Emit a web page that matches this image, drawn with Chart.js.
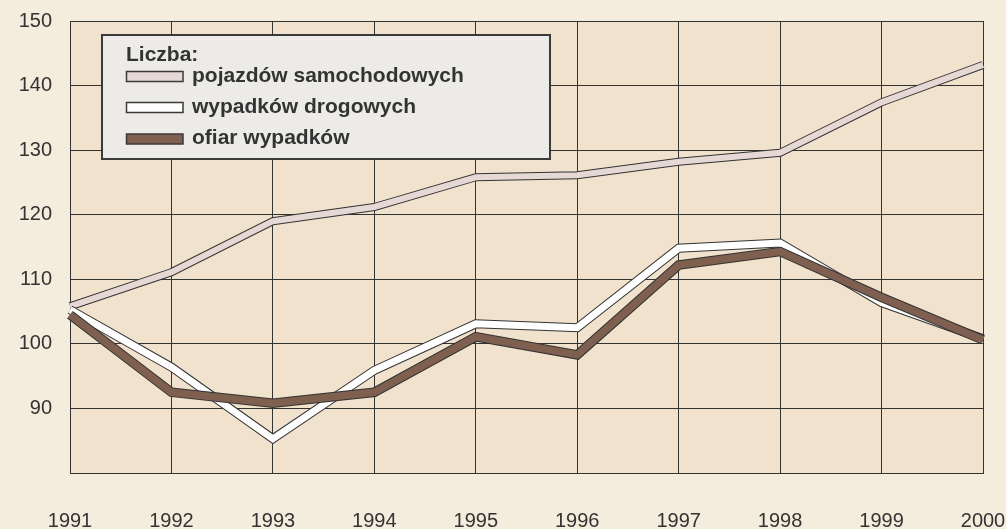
<!DOCTYPE html>
<html>
<head>
<meta charset="utf-8">
<script src="https://cdn.jsdelivr.net/npm/chart.js@4.4.1/dist/chart.umd.min.js"></script>
<style>
  html, body { margin: 0; padding: 0; background: #f4ecdc; }
  canvas { display: block; }
</style>
</head>
<body>
<canvas id="c" width="1006" height="529"></canvas>
<script>
// Index values (1991 ... 2000)
const years = ['1991', '1992', '1993', '1994', '1995', '1996', '1997', '1998', '1999', '2000'];
const vehicles = [105.8, 111.1, 119.0, 121.2, 125.8, 126.1, 128.2, 129.6, 137.4, 143.2];
const accidents = [105.3, 96.4, 85.3, 95.9, 103.1, 102.5, 114.8, 115.6, 106.4, 100.8];
const victims = [104.5, 92.5, 90.8, 92.5, 101.1, 98.3, 112.2, 114.3, 107.2, 100.6];
const yTicks = [90, 100, 110, 120, 130, 140, 150];
const legendTitle = 'Liczba:';
const seriesNames = ['pojazdów samochodowych', 'wypadków drogowych', 'ofiar wypadków'];
const seriesColors = ['#e6d8d4', '#ffffff', '#7f5f4f'];

const OUTLINE = '#333333';
const TEXT = '#333333';
const FONT = '"Liberation Sans", Arial, sans-serif';

// Each series is drawn as a dark wide stroke with a narrower coloured stroke on top
function outlinedSeries(name, values, color, inner, outer, order) {
  const common = { data: values, pointRadius: 0, tension: 0, borderJoinStyle: 'miter',
                   borderCapStyle: 'butt', fill: false, clip: false };
  return [
    Object.assign({ label: name, borderColor: color, borderWidth: inner, order: order }, common),
    Object.assign({ label: name + ' (kontur)', borderColor: OUTLINE, borderWidth: outer, order: order + 1 }, common)
  ];
}

const datasets = [].concat(
  outlinedSeries(seriesNames[2], victims, seriesColors[2], 7.5, 9.5, 0),
  outlinedSeries(seriesNames[1], accidents, seriesColors[1], 7, 9, 2),
  outlinedSeries(seriesNames[0], vehicles, seriesColors[0], 6, 8, 4)
);

// Tan plot area behind the grid
const plotBackground = {
  id: 'plotBackground',
  beforeDraw(chart) {
    const { ctx, chartArea: a } = chart;
    ctx.save();
    ctx.fillStyle = '#f4ecdc';
    ctx.fillRect(0, 0, chart.width, chart.height);
    ctx.fillStyle = '#f0e2cc';
    ctx.fillRect(a.left, a.top, a.right - a.left, a.bottom - a.top);
    ctx.restore();
  }
};

// Boxed legend in the upper-left part of the plot
const boxedLegend = {
  id: 'boxedLegend',
  afterDraw(chart) {
    const { ctx } = chart;
    const x = 102, y = 35, w = 448, h = 124;
    ctx.save();
    ctx.fillStyle = '#ecebe7';
    ctx.fillRect(x, y, w, h);
    ctx.lineWidth = 2;
    ctx.strokeStyle = '#3a3a3a';
    ctx.strokeRect(x, y, w, h);

    ctx.fillStyle = TEXT;
    ctx.font = 'bold 21px ' + FONT;
    ctx.textBaseline = 'alphabetic';
    ctx.textAlign = 'left';
    ctx.fillText(legendTitle, 126, 61);

    const baselines = [81.5, 112.5, 144];
    seriesNames.forEach((name, i) => {
      const b = baselines[i];
      ctx.fillStyle = seriesColors[i];
      ctx.fillRect(126.5, b - 10, 56.5, 10);
      ctx.lineWidth = 1.5;
      ctx.strokeStyle = '#3a3a3a';
      ctx.strokeRect(126.5, b - 10, 56.5, 10);
      ctx.fillStyle = TEXT;
      ctx.fillText(name, 192, b);
    });
    ctx.restore();
  }
};

new Chart(document.getElementById('c'), {
  type: 'line',
  data: { labels: years, datasets: datasets },
  options: {
    responsive: false,
    animation: false,
    events: [],
    layout: { padding: { top: 21, right: 23, left: 0, bottom: 0 } },
    plugins: { legend: { display: false }, tooltip: { enabled: false } },
    scales: {
      x: {
        type: 'category',
        offset: false,
        grid: { color: OUTLINE, lineWidth: 1, drawTicks: false, offset: false },
        border: { display: true, color: OUTLINE, width: 1 },
        ticks: {
          color: TEXT, padding: 36, maxRotation: 0, autoSkip: false,
          font: { family: FONT, size: 20 }
        },
        afterFit(scale) { scale.height = 56; scale.paddingLeft = 0; scale.paddingRight = 0; }
      },
      y: {
        min: 80, max: 150,
        grid: { color: OUTLINE, lineWidth: 1, drawTicks: false },
        border: { display: true, color: OUTLINE, width: 1 },
        afterBuildTicks(scale) { scale.ticks = [80].concat(yTicks).map(v => ({ value: v })); },
        ticks: {
          color: TEXT, padding: 18,
          font: { family: FONT, size: 20 },
          callback: v => (yTicks.includes(v) ? String(v) : '')
        },
        afterFit(scale) { scale.width = 70; scale.paddingTop = 0; scale.paddingBottom = 0; }
      }
    }
  },
  plugins: [plotBackground, boxedLegend]
});
</script>
</body>
</html>
